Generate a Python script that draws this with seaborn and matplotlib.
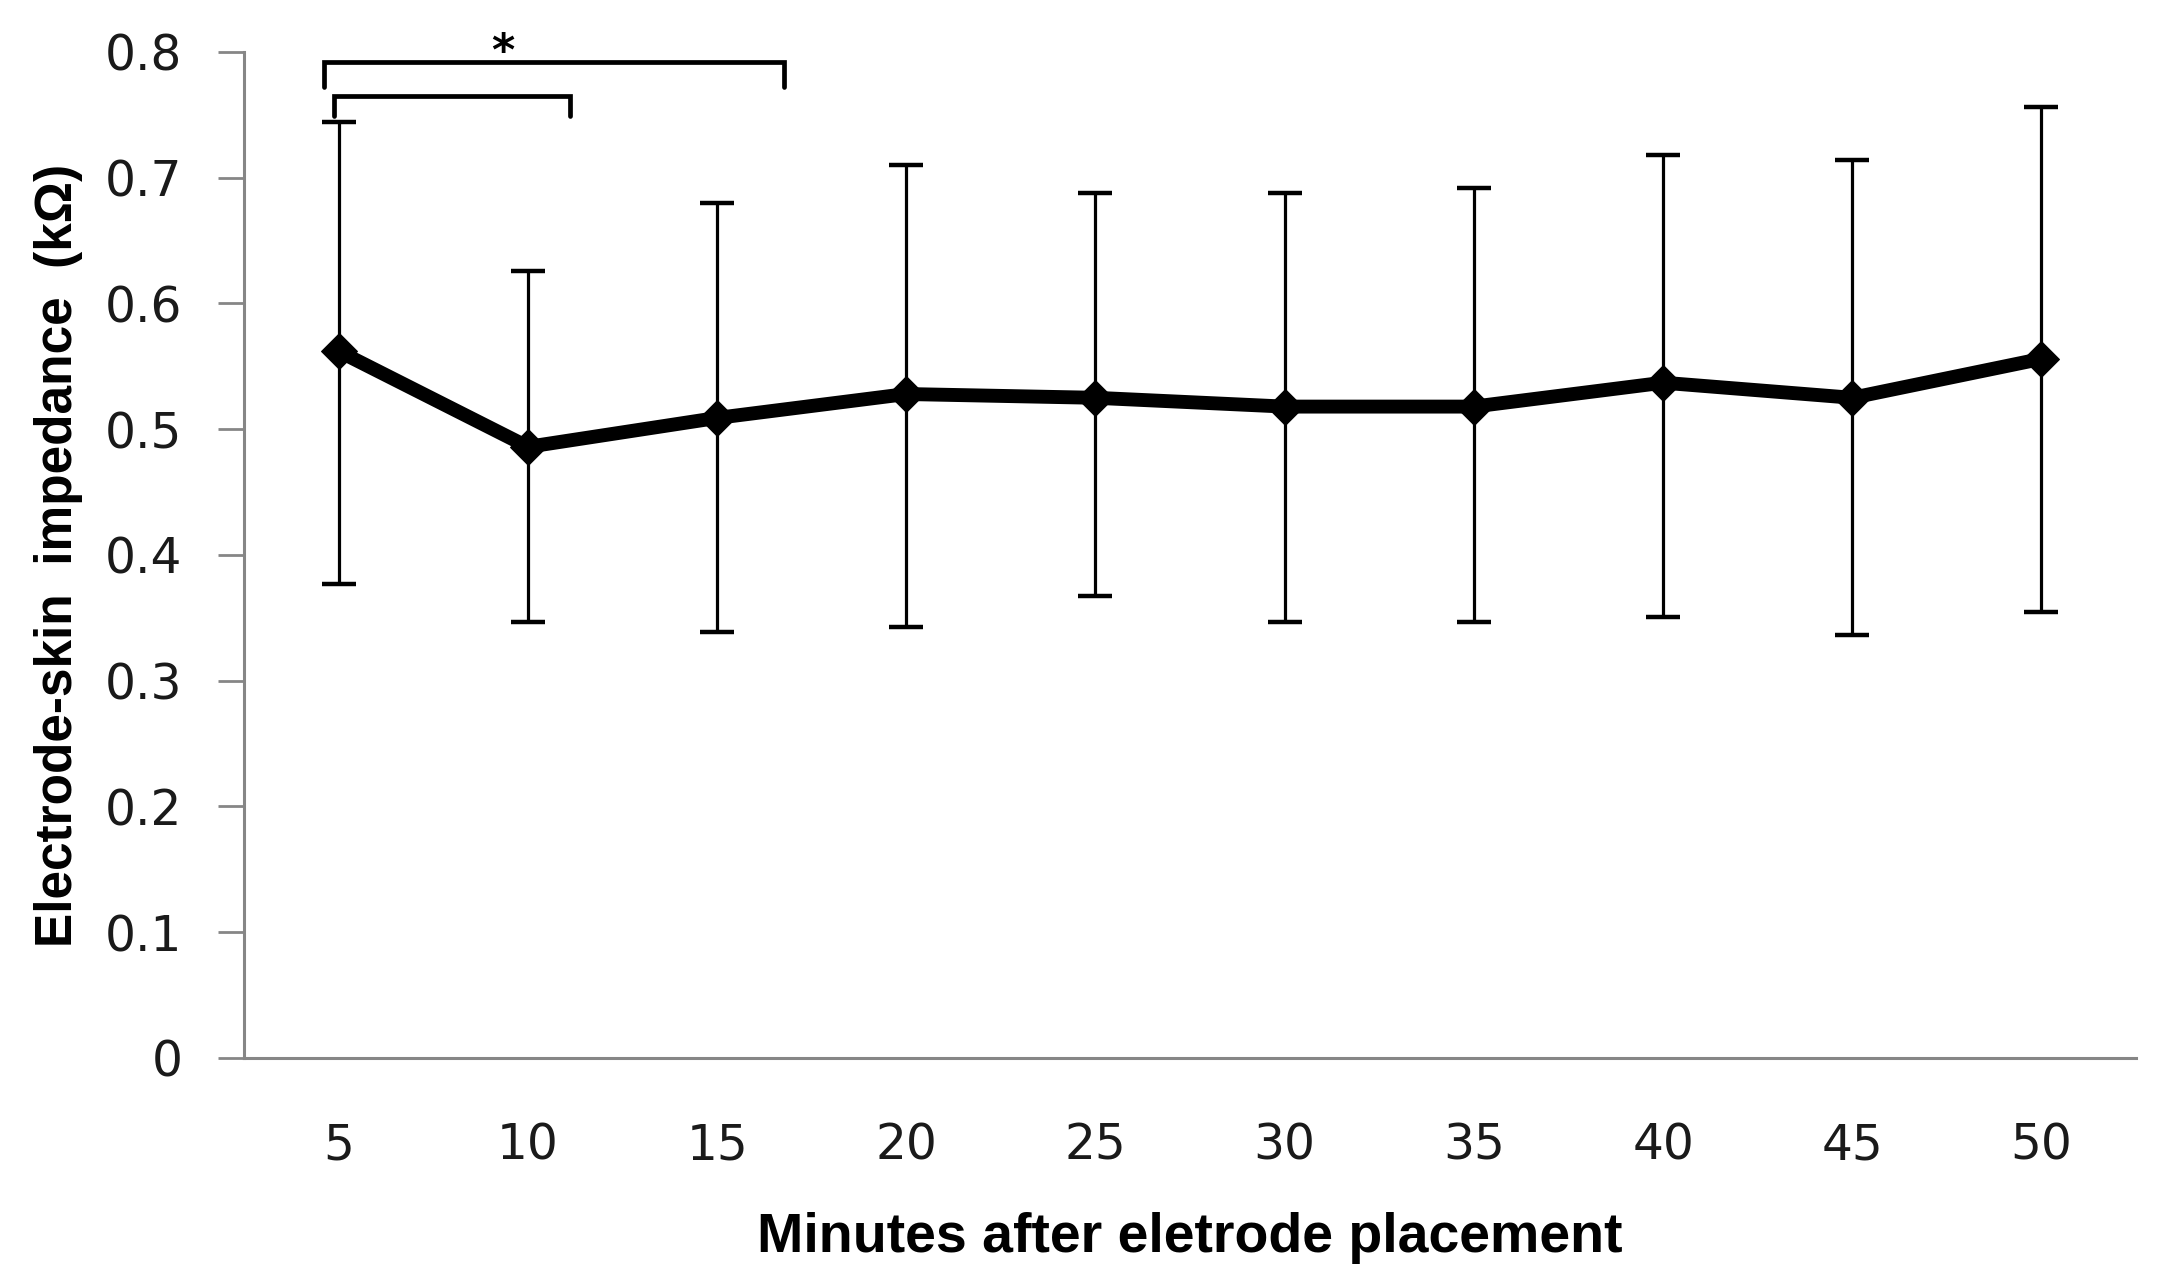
import numpy as np
import pandas as pd
import matplotlib
matplotlib.use("Agg")
import matplotlib.pyplot as plt
import seaborn as sns

minutes = [5, 10, 15, 20, 25, 30, 35, 40, 45, 50]
mean_imp = [0.562, 0.486, 0.509, 0.528, 0.525, 0.518, 0.518, 0.537, 0.525, 0.556]
upper_imp = [0.744, 0.626, 0.680, 0.710, 0.688, 0.688, 0.692, 0.718, 0.714, 0.756]
lower_imp = [0.377, 0.347, 0.339, 0.343, 0.367, 0.347, 0.347, 0.351, 0.336, 0.355]
y_ticks = [0, 0.1, 0.2, 0.3, 0.4, 0.5, 0.6, 0.7, 0.8]
y_tick_labels = ["0", "0.1", "0.2", "0.3", "0.4", "0.5", "0.6", "0.7", "0.8"]
x_label = "Minutes after eletrode placement"
y_label = "Electrode-skin  impedance  (kΩ)"

sns.set_theme(style="white")
plt.rcParams["font.family"] = ["DejaVu Sans"]

df = pd.DataFrame({"minute": minutes, "mean": mean_imp,
                   "upper": upper_imp, "lower": lower_imp})

fig = plt.figure(figsize=(21.64, 12.77), dpi=100)
ax = fig.add_axes([0.1128, 0.1715, 0.8743, 0.7878])

mean_arr = df["mean"].to_numpy()
yerr = np.vstack([mean_arr - df["lower"].to_numpy(), df["upper"].to_numpy() - mean_arr])
ax.errorbar(df["minute"], mean_arr, yerr=yerr, fmt="none", ecolor="black",
            elinewidth=2.3, capsize=12, capthick=3.2, zorder=2)

sns.lineplot(data=df, x="minute", y="mean", ax=ax, color="black", linewidth=10,
             marker="D", markersize=18, markeredgecolor="black", zorder=3)

ax.set_xlim(2.5, 52.5)
ax.set_ylim(0, 0.8)
ax.set_xticks(minutes)
ax.set_xticklabels([str(m) for m in minutes])
ax.set_yticks(y_ticks)
ax.set_yticklabels(y_tick_labels)

gray = "#868686"
for s in ["top", "right"]:
    ax.spines[s].set_visible(False)
for s in ["left", "bottom"]:
    ax.spines[s].set_color(gray)
    ax.spines[s].set_linewidth(2.2)

ax.tick_params(axis="y", direction="out", length=18.5, width=2, color=gray,
               pad=26, labelsize=35, labelcolor="#1a1a1a", left=True)
ax.tick_params(axis="x", length=0, pad=46, labelsize=35, labelcolor="#1a1a1a")

lab_font = ["Liberation Sans", "DejaVu Sans"]
ax.set_xlabel(x_label, fontsize=40, fontweight="bold", family=lab_font, color="black")
ax.set_ylabel(y_label, fontsize=37, fontweight="bold", family=lab_font, color="black")
ax.xaxis.set_label_coords(0.5, -0.153)
ax.yaxis.set_label_coords(-0.085, 0.5)

# significance brackets
ax.plot([4.61, 4.61, 16.77, 16.77], [0.772, 0.792, 0.792, 0.772], color="black",
        linewidth=3.4, clip_on=False, solid_joinstyle="miter")
ax.plot([4.88, 4.88, 11.11, 11.11], [0.749, 0.765, 0.765, 0.749], color="black",
        linewidth=3.4, clip_on=False, solid_joinstyle="miter")
ax.text(9.34, 0.790, "*", fontsize=32, fontweight="bold", ha="center", va="baseline",
        color="black", clip_on=False)

fig.savefig("out.png", dpi=100, facecolor="white")
